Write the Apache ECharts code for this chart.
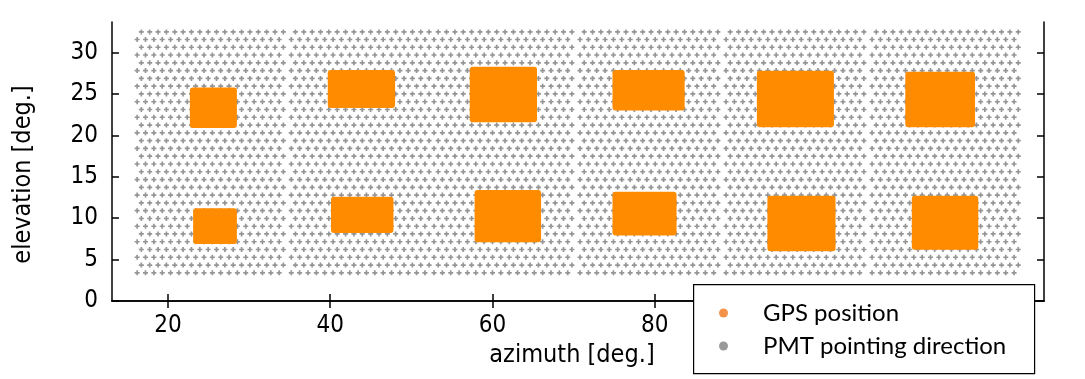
<!DOCTYPE html>
<html>
<head>
<meta charset="utf-8">
<script src="https://cdn.jsdelivr.net/npm/echarts@6.0.0/dist/echarts.min.js"></script>
<style>
  html, body { margin: 0; padding: 0; background: #fff; }
  #chart { width: 1085px; height: 379px; }
</style>
</head>
<body>
<div id="chart"></div>
<script>
// ---------------- data ----------------
const xTickValues = [20, 40, 60, 80, 100, 120];
const yTickValues = [0, 5, 10, 15, 20, 25, 30];

// GPS position clouds: [azimuth min, azimuth max, elevation min, elevation max]
const gpsAzMin = [22.7, 39.7, 57.2, 74.8, 92.6, 110.9, 23.1, 40.1, 57.8, 74.8, 93.9, 111.7];
const gpsAzMax = [28.5, 48.0, 65.5, 83.7, 102.1, 119.5, 28.5, 47.8, 66.0, 82.7, 102.3, 119.9];
const gpsElMin = [20.9, 23.3, 21.6, 23.0, 21.0, 21.0, 6.9, 8.2, 7.1, 7.9, 6.0, 6.2];
const gpsElMax = [25.8, 27.9, 28.3, 27.9, 27.8, 27.7, 11.2, 12.6, 13.4, 13.2, 12.7, 12.7];

// PMT pointing direction lattice: six camera panels (azimuth extents),
// rows of pointing elevations, column pitch in azimuth (alternate rows staggered)
const pmtPanelAzStart = [16.2, 35.2, 52.8, 70.8, 88.8, 106.8];
const pmtPanelAzEnd   = [34.6, 52.2, 70.2, 88.2, 106.2, 125.3];
const pmtRowElevations = [3.4, 4.34, 5.28, 6.22, 7.16, 8.10, 9.03, 9.97, 10.91, 11.85,
  12.79, 13.73, 14.67, 15.61, 16.55, 17.49, 18.43, 19.37, 20.31, 21.25, 22.19, 23.13,
  24.07, 25.01, 25.95, 26.89, 27.83, 28.77, 29.71, 30.65, 31.59, 32.5];
const pmtColumnPitch = 1.03;

// ---------------- build series data ----------------
const pmtPoints = [];
for (let p = 0; p < pmtPanelAzStart.length; p++) {
  for (let r = 0; r < pmtRowElevations.length; r++) {
    const off = (r % 2) * pmtColumnPitch / 2;
    for (let az = pmtPanelAzStart[p] + off; az <= pmtPanelAzEnd[p] + 1e-6; az += pmtColumnPitch) {
      pmtPoints.push([az, pmtRowElevations[r]]);
    }
  }
}
const gpsData = gpsAzMin.map((v, i) => [v, gpsAzMax[i], gpsElMin[i], gpsElMax[i]]);

const narrowFont = "'Liberation Sans Narrow', 'Arial Narrow', 'DejaVu Sans Condensed', sans-serif";
const plusPath = 'path://M2,0H4V2H6V4H4V6H2V4H0V2H2Z';

const chart = echarts.init(document.getElementById('chart'), null, { renderer: 'canvas' });
const axisLine = { show: true, lineStyle: { color: '#000', width: 1.5 } };
const tickStyle = { color: '#000', width: 1.5 };

chart.setOption({
  animation: false,
  backgroundColor: '#fff',
  grid: { left: 112, right: 41, top: 22, bottom: 78, containLabel: false },
  xAxis: [{
    type: 'value', min: 13.1, max: 128, position: 'bottom',
    axisLine: axisLine,
    axisTick: { show: true, inside: true, length: 7, lineStyle: tickStyle, customValues: xTickValues },
    axisLabel: { show: true, customValues: xTickValues, margin: 13, color: '#000', fontSize: 24, fontFamily: narrowFont },
    splitLine: { show: false },
    name: 'azimuth [deg.]', nameLocation: 'middle', nameGap: 42,
    nameTextStyle: { color: '#000', fontSize: 25, fontFamily: narrowFont, padding: [0, 12, 0, 0] }
  }, {
    type: 'value', min: 13.1, max: 128, position: 'top',
    axisLine: axisLine,
    axisTick: { show: true, inside: true, length: 7, lineStyle: tickStyle, customValues: xTickValues },
    axisLabel: { show: false }, splitLine: { show: false }
  }],
  yAxis: [{
    type: 'value', min: 0, max: 33.7, position: 'left',
    axisLine: axisLine,
    axisTick: { show: true, inside: true, length: 7, lineStyle: tickStyle, customValues: yTickValues },
    axisLabel: { show: true, customValues: yTickValues, margin: 14, color: '#000', fontSize: 24, fontFamily: narrowFont },
    splitLine: { show: false },
    name: 'elevation [deg.]', nameLocation: 'middle', nameGap: 76,
    nameTextStyle: { color: '#000', fontSize: 25, fontFamily: narrowFont, padding: [0, 26, 0, 0] }
  }, {
    type: 'value', min: 0, max: 33.7, position: 'right',
    axisLine: axisLine,
    axisTick: { show: true, inside: true, length: 7, lineStyle: tickStyle, customValues: yTickValues },
    axisLabel: { show: false }, splitLine: { show: false }
  }],
  graphic: [{
    type: 'rect', z: 50, left: 693, top: 284,
    shape: { width: 341, height: 89 },
    style: { fill: '#fff', stroke: '#000', lineWidth: 1.2 }
  }],
  legend: {
    z: 60, orient: 'vertical', left: 719, top: 300, padding: 0,
    itemWidth: 9, itemHeight: 9, itemGap: 7,
    textStyle: { color: '#000', fontSize: 24, lineHeight: 26, fontFamily: "Lato, 'Open Sans', sans-serif", padding: [0, 0, 0, 30] },
    data: [
      { name: 'GPS position', icon: 'circle', itemStyle: { color: '#f4924a' } },
      { name: 'PMT pointing direction', icon: 'circle', itemStyle: { color: '#7f7f7f' } }
    ]
  },
  series: [{
    name: 'PMT pointing direction', type: 'scatter', xAxisIndex: 0, yAxisIndex: 0,
    data: pmtPoints, symbol: plusPath, symbolSize: 5, silent: true,
    itemStyle: { color: '#7a7a7a' }, z: 2
  }, {
    name: 'GPS position', type: 'custom', xAxisIndex: 0, yAxisIndex: 0,
    data: gpsData, silent: true, z: 3,
    itemStyle: { color: '#ff8c00' },
    renderItem: function (params, api) {
      const p0 = api.coord([api.value(0), api.value(3)]);
      const p1 = api.coord([api.value(1), api.value(2)]);
      return {
        type: 'rect',
        shape: { x: p0[0], y: p0[1], width: p1[0] - p0[0], height: p1[1] - p0[1], r: 3 },
        style: { fill: '#ff8c00' }
      };
    }
  }]
});
</script>
</body>
</html>
